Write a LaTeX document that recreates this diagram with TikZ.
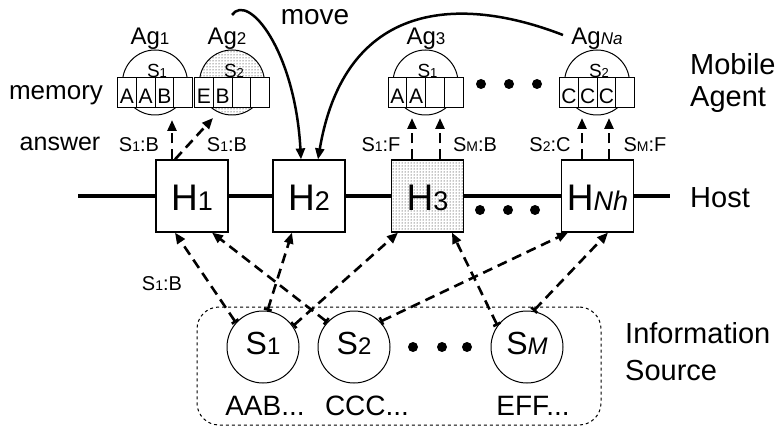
\documentclass[tikz,border=0pt]{standalone}
\usepackage{fontspec}
\setmainfont{Liberation Sans}
\usetikzlibrary{arrows.meta,patterns}
\newcommand{\fs}[1]{\fontsize{#1}{#1}\selectfont}
\tikzset{
  hbox/.style={draw,line width=1.2pt,minimum size=72pt,inner sep=0pt,fill=white},
  cell/.style={draw,line width=1pt,minimum width=18.75pt,minimum height=30pt,inner sep=0pt,fill=white,text height=22pt,text depth=0pt,font=\fs{21}},
  agc/.style={draw,circle,line width=1pt,minimum size=65pt,inner sep=0pt},
  src/.style={draw,circle,line width=1pt,minimum size=72pt,inner sep=0pt},
  bigdot/.style={circle,fill=black,inner sep=0pt,minimum size=10pt},
  lbl/.style={anchor=base,inner sep=0pt},
  lblw/.style={anchor=base west,inner sep=0pt},
  dline/.style={line width=2.6pt,dash pattern=on 10pt off 6pt,-{Triangle[length=11pt,width=9pt]}},
  sline/.style={line width=2.6pt,dash pattern=on 10pt off 6pt,{Bar[width=8pt]}-{Triangle[length=11pt,width=9pt]}},
  mvline/.style={line width=2.5pt,-{Triangle[length=11pt,width=9pt]}},
}
\newcommand{\agentgrp}[8]{%
  \node[agc,#3] (#1c) at (#2,82.5) {};
  \node[lbl] (#1s) at (#2+2,78) {#8};
  \node[cell,xshift=-28.125pt] (#1a) at (#2,93) {#4};
  \node[cell,xshift=-9.375pt] (#1b) at (#2,93) {#5};
  \node[cell,xshift=9.375pt] (#1d) at (#2,93) {#6};
  \node[cell,xshift=28.125pt] (#1e) at (#2,93) {#7};
}
\begin{document}
\begin{tikzpicture}[x=1pt,y=-1pt]
\useasboundingbox (0,0) rectangle (778,430);

% ---------- agents ----------
\agentgrp{ag1}{155}{}{A}{A}{B}{}{\fs{19}S\fs{13}1}
\agentgrp{ag2}{232}{pattern=dots,pattern color=black}{E}{B}{}{}{\fs{19}S\fs{13}2}
\agentgrp{ag3}{425.5}{}{A}{A}{}{}{\fs{19}S\fs{13}1}
\agentgrp{agn}{597}{}{C}{C}{C}{}{\fs{19}S\fs{13}2}

\node[lbl] (ag1l) at (150,45) {\fs{24}Ag\fs{17}1};
\node[lbl] (ag2l) at (227,45) {\fs{24}Ag\fs{17}2};
\node[lbl] (ag3l) at (426,45) {\fs{24}Ag\fs{17}3};
\node[lbl] (agnl) at (597,45) {\fs{24}Ag\fs{17}\itshape Na};

\node[bigdot] (ad1) at (481,84) {};
\node[bigdot] (ad2) at (509,84) {};
\node[bigdot] (ad3) at (537,84) {};

\node[lbl,font=\fs{26}] (memory) at (56,100) {memory};
\node[lbl,font=\fs{25}] (answer) at (60,151) {answer};
\node[lblw,font=\fs{29}] (mob) at (690,75) {Mobile};
\node[lblw,font=\fs{29}] (agt) at (690,107) {Agent};

% ---------- hosts ----------
\node[hbox] (H1) at (192,196) {};
\node[hbox] (H2) at (309,196) {};
\node[hbox,pattern=dots,pattern color=black] (H3) at (427.5,196) {};
\node[hbox] (HN) at (597.5,196) {};
\node[lbl] (H1l) at (192,211) {\fs{37}H\fs{27}1};
\node[lbl] (H2l) at (309,211) {\fs{37}H\fs{27}2};
\node[lbl] (H3l) at (427.5,211) {\fs{37}H\fs{27}3};
\node[lbl] (HNl) at (597.5,211) {\fs{37}H\fs{27}\itshape Nh};

\coordinate (hl) at (78,196);
\coordinate (hr) at (670,196);
\draw[line width=4.5pt] (hl) -- (H1.west) (H1.east) -- (H2.west) (H2.east) -- (H3.west) (H3.east) -- (HN.west) (HN.east) -- (hr);

\node[bigdot] (hd1) at (480,210) {};
\node[bigdot] (hd2) at (508,210) {};
\node[bigdot] (hd3) at (535,210) {};

\node[lblw,font=\fs{29}] (host) at (690,208) {Host};

% ---------- answers ----------
\coordinate (t1) at (172,120);
\coordinate (t2) at (213,118);
\coordinate (t3) at (412,118);
\coordinate (t4) at (440,118);
\coordinate (t5) at (582,118);
\coordinate (t6) at (609,118);
\draw[dline] ([xshift=-20pt]H1.north) -- (t1);
\draw[dline] ([xshift=-17pt]H1.north) -- (t2);
\draw[dline] ([xshift=-15.5pt]H3.north) -- (t3);
\draw[dline] ([xshift=12.5pt]H3.north) -- (t4);
\draw[dline] ([xshift=-15.5pt]HN.north) -- (t5);
\draw[dline] ([xshift=11.5pt]HN.north) -- (t6);

\node[lbl] (a1) at (139,152) {\fs{20}S\fs{14}1\fs{20}:B};
\node[lbl] (a2) at (227,152) {\fs{20}S\fs{14}1\fs{20}:B};
\node[lbl] (a3) at (381,152) {\fs{20}S\fs{14}1\fs{20}:F};
\node[lbl] (a4) at (475,152) {\fs{20}S\fs{14}M\fs{20}:B};
\node[lbl] (a5) at (550,152) {\fs{20}S\fs{14}2\fs{20}:C};
\node[lbl] (a6) at (645,152) {\fs{20}S\fs{14}M\fs{20}:F};

% ---------- move ----------
\coordinate (mv1) at (232,15);
\coordinate (mv2) at (563,35);
\draw[mvline] (mv1) .. controls (248,-8) and (295,50) .. ([xshift=-8pt]H2.north);
\draw[mvline] (mv2) .. controls (460,-5) and (345,0) .. ([xshift=9pt]H2.north);
\node[lbl,font=\fs{28}] (move) at (315,25) {move};

% ---------- sources ----------
\node[draw,dashed,line width=1pt,rounded corners=22pt,minimum width=404pt,minimum height=118pt,inner sep=0pt] (sbox) at (399,366) {};
\node[src] (S1) at (263,347) {};
\node[src] (S2) at (354,347) {};
\node[src] (SM) at (527,347) {};
\node[lbl] (S1l) at (263,354) {\fs{32}S\fs{24}1};
\node[lbl] (S2l) at (354,354) {\fs{32}S\fs{24}2};
\node[lbl] (SMl) at (527,354) {\fs{32}S\fs{24}\itshape M};
\node[bigdot] (sd1) at (413,347) {};
\node[bigdot] (sd2) at (442,347) {};
\node[bigdot] (sd3) at (467,347) {};
\node[lbl,font=\fs{28}] (d1) at (265,415) {AAB...};
\node[lbl,font=\fs{28}] (d2) at (367,415) {CCC...};
\node[lbl,font=\fs{28}] (d3) at (533,415) {EFF...};
\node[lblw,font=\fs{29}] (info) at (625,343) {Information};
\node[lblw,font=\fs{29}] (srcl) at (625,380) {Source};

\draw[sline] (S1.138) -- ([xshift=-17pt]H1.south);
\draw[sline] (S1.83) -- ([xshift=-17pt]H2.south);
\draw[sline] (S1.35) -- ([xshift=-29.5pt]H3.south);
\draw[sline] (S2.137) -- ([xshift=20pt]H1.south);
\draw[sline] (S2.44) -- ([xshift=-29.5pt]HN.south);
\draw[sline] (SM.144) -- ([xshift=24.5pt]H3.south);
\draw[sline] (SM.80) -- ([xshift=10.5pt]HN.south);

\node[lbl] (a7) at (162,290) {\fs{20}S\fs{14}1\fs{20}:B};
\end{tikzpicture}
\end{document}
